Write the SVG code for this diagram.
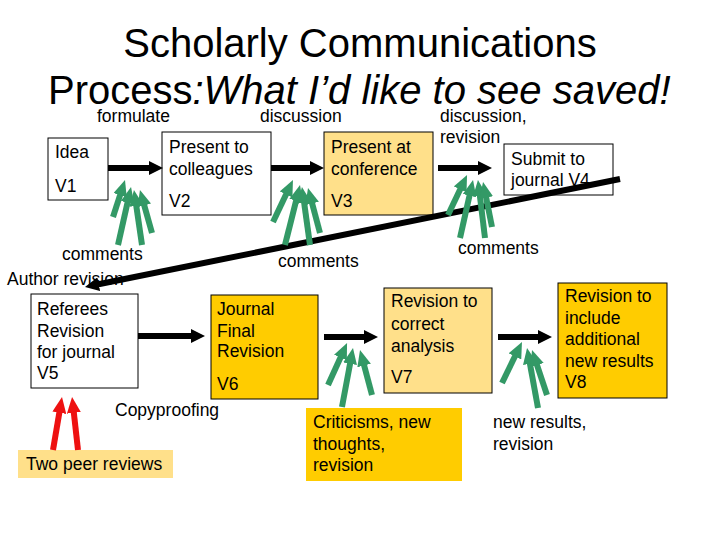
<svg xmlns="http://www.w3.org/2000/svg" width="720" height="540" viewBox="0 0 720 540">
<style>
  text { font-family: "Liberation Sans", Arial, sans-serif; font-size: 17.5px; fill: #000; }
  .title { font-size: 40px; }
  .box { stroke: #000; stroke-width: 1; fill: #fff; }
  .pale { fill: #FFE08A; }
  .gold { fill: #FFCC00; }
  .nob { stroke: none; }
  .blk { stroke: #000; stroke-width: 6; fill: none; marker-end: url(#hBlack); }
  .grn { stroke: #339966; stroke-width: 6; fill: none; marker-end: url(#hGreen); }
  .red { stroke: #EE1111; stroke-width: 6; fill: none; marker-end: url(#hRed); }
</style>
<defs>
  <marker id="hBlack" markerUnits="userSpaceOnUse" markerWidth="14" markerHeight="14" refX="4" refY="7" orient="auto" viewBox="0 0 14 14">
    <path d="M0,0 L14,7 L0,14 z" fill="#000"/>
  </marker>
  <marker id="hGreen" markerUnits="userSpaceOnUse" markerWidth="16" markerHeight="14" refX="4" refY="7" orient="auto" viewBox="0 0 16 14">
    <path d="M0,0 L16,7 L0,14 z" fill="#339966"/>
  </marker>
  <marker id="hRed" markerUnits="userSpaceOnUse" markerWidth="16" markerHeight="14" refX="4" refY="7" orient="auto" viewBox="0 0 16 14">
    <path d="M0,0 L16,7 L0,14 z" fill="#EE1111"/>
  </marker>
</defs>
<rect width="720" height="540" fill="#fff"/>

<g id="title">
  <text class="title" x="360" y="57" text-anchor="middle">Scholarly Communications</text>
  <text class="title" x="48" y="104">Process<tspan font-style="italic">:What I’d like to see saved!</tspan></text>
</g>

<g id="labels">
  <text x="97" y="122">formulate</text>
  <text x="260" y="122">discussion</text>
  <text x="440" y="122">discussion,</text>
  <text x="440" y="143">revision</text>
  <text x="62" y="260">comments</text>
  <text x="7" y="285">Author revision</text>
  <text x="278" y="267">comments</text>
  <text x="458" y="254">comments</text>
  <text x="115" y="416">Copyproofing</text>
  <text x="493" y="428">new results,</text>
  <text x="493" y="450">revision</text>
</g>

<g id="idea">
  <rect class="box" x="48" y="138" width="60" height="62"/>
  <text x="55" y="158">Idea</text>
  <text x="55" y="192">V1</text>
</g>
<g id="colleagues">
  <rect class="box" x="162" y="132" width="109" height="83"/>
  <text x="169" y="153">Present to</text>
  <text x="169" y="175">colleagues</text>
  <text x="169" y="207">V2</text>
</g>
<g id="conference">
  <rect class="box pale" x="324" y="132" width="109" height="83"/>
  <text x="331" y="153">Present at</text>
  <text x="331" y="175">conference</text>
  <text x="331" y="207">V3</text>
</g>
<g id="submit">
  <rect class="box" x="504" y="144" width="109" height="51"/>
  <text x="511" y="165">Submit to</text>
  <text x="511" y="186">journal V4</text>
</g>
<g id="referees">
  <rect class="box" x="31" y="294" width="107" height="94"/>
  <text x="37" y="315">Referees</text>
  <text x="37" y="337">Revision</text>
  <text x="37" y="358">for journal</text>
  <text x="37" y="379">V5</text>
</g>
<g id="journal">
  <rect class="box gold" x="211" y="295" width="107" height="104"/>
  <text x="217" y="315">Journal</text>
  <text x="217" y="337">Final</text>
  <text x="217" y="357">Revision</text>
  <text x="217" y="390">V6</text>
</g>
<g id="revision7">
  <rect class="box pale" x="384" y="288" width="108" height="105"/>
  <text x="391" y="307">Revision to</text>
  <text x="391" y="330">correct</text>
  <text x="391" y="352">analysis</text>
  <text x="391" y="383">V7</text>
</g>
<g id="criticisms">
  <rect class="gold nob" x="306" y="408" width="156" height="73"/>
  <text x="313" y="428">Criticisms, new</text>
  <text x="313" y="450">thoughts,</text>
  <text x="313" y="471">revision</text>
</g>
<g id="revision8">
  <rect class="box gold" x="558" y="283" width="109" height="115"/>
  <text x="565" y="302">Revision to</text>
  <text x="565" y="324">include</text>
  <text x="565" y="345">additional</text>
  <text x="565" y="367">new results</text>
  <text x="565" y="388">V8</text>
</g>
<g id="peer-reviews">
  <rect class="pale nob" x="18" y="450" width="155" height="28"/>
  <text x="26" y="470">Two peer reviews</text>
</g>

<g id="connectors">
  <line class="blk" x1="108" y1="168" x2="153" y2="168"/>
  <line class="blk" x1="271" y1="168" x2="314" y2="168"/>
  <line class="blk" x1="438" y1="168" x2="482" y2="168"/>
  <line class="blk" x1="138" y1="336" x2="195" y2="336"/>
  <line class="blk" x1="324" y1="337" x2="368" y2="337"/>
  <line class="blk" x1="498" y1="337" x2="542" y2="337"/>
  <line class="blk" x1="620" y1="179" x2="94.8" y2="285"/>

  <line class="grn" x1="113" y1="217" x2="121.3" y2="191.4"/>
  <line class="grn" x1="118" y1="245" x2="128.4" y2="198.7"/>
  <line class="grn" x1="142" y1="245" x2="135.7" y2="201.9"/>
  <line class="grn" x1="152" y1="233" x2="143.2" y2="201.6"/>

  <line class="grn" x1="273" y1="222" x2="287.8" y2="190.8"/>
  <line class="grn" x1="285" y1="245" x2="297.1" y2="196.7"/>
  <line class="grn" x1="310" y1="245" x2="303.6" y2="198.9"/>
  <line class="grn" x1="320" y1="233" x2="311.1" y2="199.6"/>

  <line class="grn" x1="448" y1="215" x2="461.9" y2="185.8"/>
  <line class="grn" x1="460" y1="238" x2="470.4" y2="191.7"/>
  <line class="grn" x1="485" y1="238" x2="479.4" y2="191.9"/>
  <line class="grn" x1="492" y1="227" x2="485.4" y2="193.8"/>

  <line class="grn" x1="328" y1="385" x2="342.1" y2="353.9"/>
  <line class="grn" x1="342" y1="407" x2="350.8" y2="359.8"/>
  <line class="grn" x1="372" y1="395" x2="363.1" y2="361.6"/>

  <line class="grn" x1="502" y1="383" x2="516.7" y2="352.8"/>
  <line class="grn" x1="538" y1="408" x2="529.2" y2="359.8"/>
  <line class="grn" x1="547" y1="395" x2="535.8" y2="361.4"/>

  <line class="red" x1="53" y1="450" x2="60" y2="408.8"/>
  <line class="red" x1="78" y1="450" x2="73.4" y2="408.9"/>
</g>
</svg>
